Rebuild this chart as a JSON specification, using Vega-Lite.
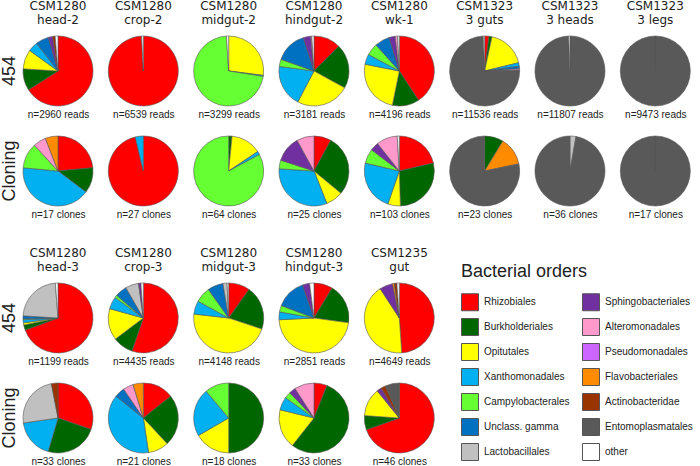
{
  "$schema": "https://vega.github.io/schema/vega-lite/v6.json",
  "padding": 0,
  "background": "white",
  "datasets": {
    "top": [
      {"s":"CSM1280|head-2","r":"454","n":"n=2960 reads","o":"Rhizobiales","k":1,"v":66},
      {"s":"CSM1280|head-2","r":"454","n":"n=2960 reads","o":"Burkholderiales","k":2,"v":10},
      {"s":"CSM1280|head-2","r":"454","n":"n=2960 reads","o":"Opitutales","k":3,"v":9},
      {"s":"CSM1280|head-2","r":"454","n":"n=2960 reads","o":"Xanthomonadales","k":4,"v":4.5},
      {"s":"CSM1280|head-2","r":"454","n":"n=2960 reads","o":"Unclass. gamma","k":6,"v":6},
      {"s":"CSM1280|head-2","r":"454","n":"n=2960 reads","o":"Sphingobacteriales","k":8,"v":2},
      {"s":"CSM1280|head-2","r":"454","n":"n=2960 reads","o":"Actinobacteridae","k":12,"v":1.2},
      {"s":"CSM1280|head-2","r":"454","n":"n=2960 reads","o":"other","k":14,"v":1.3},
      {"s":"CSM1280|crop-2","r":"454","n":"n=6539 reads","o":"Rhizobiales","k":1,"v":99.2},
      {"s":"CSM1280|crop-2","r":"454","n":"n=6539 reads","o":"other","k":14,"v":0.8},
      {"s":"CSM1280|midgut-2","r":"454","n":"n=3299 reads","o":"Opitutales","k":3,"v":27},
      {"s":"CSM1280|midgut-2","r":"454","n":"n=3299 reads","o":"Xanthomonadales","k":4,"v":0.5},
      {"s":"CSM1280|midgut-2","r":"454","n":"n=3299 reads","o":"Campylobacterales","k":5,"v":71.5},
      {"s":"CSM1280|midgut-2","r":"454","n":"n=3299 reads","o":"other","k":14,"v":1},
      {"s":"CSM1280|hindgut-2","r":"454","n":"n=3181 reads","o":"Rhizobiales","k":1,"v":12.5},
      {"s":"CSM1280|hindgut-2","r":"454","n":"n=3181 reads","o":"Burkholderiales","k":2,"v":20.5},
      {"s":"CSM1280|hindgut-2","r":"454","n":"n=3181 reads","o":"Opitutales","k":3,"v":24.7},
      {"s":"CSM1280|hindgut-2","r":"454","n":"n=3181 reads","o":"Xanthomonadales","k":4,"v":19.4},
      {"s":"CSM1280|hindgut-2","r":"454","n":"n=3181 reads","o":"Campylobacterales","k":5,"v":3.3},
      {"s":"CSM1280|hindgut-2","r":"454","n":"n=3181 reads","o":"Unclass. gamma","k":6,"v":14.7},
      {"s":"CSM1280|hindgut-2","r":"454","n":"n=3181 reads","o":"Sphingobacteriales","k":8,"v":3.4},
      {"s":"CSM1280|hindgut-2","r":"454","n":"n=3181 reads","o":"Alteromonadales","k":9,"v":0.5},
      {"s":"CSM1280|hindgut-2","r":"454","n":"n=3181 reads","o":"other","k":14,"v":1},
      {"s":"CSM1280|wk-1","r":"454","n":"n=4196 reads","o":"Rhizobiales","k":1,"v":40.8},
      {"s":"CSM1280|wk-1","r":"454","n":"n=4196 reads","o":"Burkholderiales","k":2,"v":12.4},
      {"s":"CSM1280|wk-1","r":"454","n":"n=4196 reads","o":"Opitutales","k":3,"v":24.9},
      {"s":"CSM1280|wk-1","r":"454","n":"n=4196 reads","o":"Xanthomonadales","k":4,"v":4.7},
      {"s":"CSM1280|wk-1","r":"454","n":"n=4196 reads","o":"Campylobacterales","k":5,"v":5.6},
      {"s":"CSM1280|wk-1","r":"454","n":"n=4196 reads","o":"Unclass. gamma","k":6,"v":6.9},
      {"s":"CSM1280|wk-1","r":"454","n":"n=4196 reads","o":"Sphingobacteriales","k":8,"v":2.8},
      {"s":"CSM1280|wk-1","r":"454","n":"n=4196 reads","o":"Alteromonadales","k":9,"v":1.1},
      {"s":"CSM1280|wk-1","r":"454","n":"n=4196 reads","o":"other","k":14,"v":0.8},
      {"s":"CSM1323|3 guts","r":"454","n":"n=11536 reads","o":"Rhizobiales","k":1,"v":2},
      {"s":"CSM1323|3 guts","r":"454","n":"n=11536 reads","o":"Burkholderiales","k":2,"v":1.4},
      {"s":"CSM1323|3 guts","r":"454","n":"n=11536 reads","o":"Opitutales","k":3,"v":17.8},
      {"s":"CSM1323|3 guts","r":"454","n":"n=11536 reads","o":"Xanthomonadales","k":4,"v":1.6},
      {"s":"CSM1323|3 guts","r":"454","n":"n=11536 reads","o":"Unclass. gamma","k":6,"v":1.2},
      {"s":"CSM1323|3 guts","r":"454","n":"n=11536 reads","o":"Alteromonadales","k":9,"v":0.6},
      {"s":"CSM1323|3 guts","r":"454","n":"n=11536 reads","o":"Entomoplasmatales","k":13,"v":74.8},
      {"s":"CSM1323|3 guts","r":"454","n":"n=11536 reads","o":"other","k":14,"v":0.6},
      {"s":"CSM1323|3 heads","r":"454","n":"n=11807 reads","o":"Entomoplasmatales","k":13,"v":99.4},
      {"s":"CSM1323|3 heads","r":"454","n":"n=11807 reads","o":"other","k":14,"v":0.6},
      {"s":"CSM1323|3 legs","r":"454","n":"n=9473 reads","o":"Entomoplasmatales","k":13,"v":100},
      {"s":"CSM1323|3 legs","r":"454","n":"n=9473 reads","o":"other","k":14,"v":0},
      {"s":"CSM1280|head-2","r":"Cloning","n":"n=17 clones","o":"Rhizobiales","k":1,"v":4},
      {"s":"CSM1280|head-2","r":"Cloning","n":"n=17 clones","o":"Burkholderiales","k":2,"v":2},
      {"s":"CSM1280|head-2","r":"Cloning","n":"n=17 clones","o":"Xanthomonadales","k":4,"v":7},
      {"s":"CSM1280|head-2","r":"Cloning","n":"n=17 clones","o":"Campylobacterales","k":5,"v":2},
      {"s":"CSM1280|head-2","r":"Cloning","n":"n=17 clones","o":"Alteromonadales","k":9,"v":1},
      {"s":"CSM1280|head-2","r":"Cloning","n":"n=17 clones","o":"Flavobacteriales","k":11,"v":1},
      {"s":"CSM1280|crop-2","r":"Cloning","n":"n=27 clones","o":"Rhizobiales","k":1,"v":26},
      {"s":"CSM1280|crop-2","r":"Cloning","n":"n=27 clones","o":"Xanthomonadales","k":4,"v":1},
      {"s":"CSM1280|midgut-2","r":"Cloning","n":"n=64 clones","o":"Burkholderiales","k":2,"v":1},
      {"s":"CSM1280|midgut-2","r":"Cloning","n":"n=64 clones","o":"Opitutales","k":3,"v":9},
      {"s":"CSM1280|midgut-2","r":"Cloning","n":"n=64 clones","o":"Xanthomonadales","k":4,"v":1},
      {"s":"CSM1280|midgut-2","r":"Cloning","n":"n=64 clones","o":"Campylobacterales","k":5,"v":53},
      {"s":"CSM1280|hindgut-2","r":"Cloning","n":"n=25 clones","o":"Rhizobiales","k":1,"v":2},
      {"s":"CSM1280|hindgut-2","r":"Cloning","n":"n=25 clones","o":"Burkholderiales","k":2,"v":7},
      {"s":"CSM1280|hindgut-2","r":"Cloning","n":"n=25 clones","o":"Opitutales","k":3,"v":2},
      {"s":"CSM1280|hindgut-2","r":"Cloning","n":"n=25 clones","o":"Xanthomonadales","k":4,"v":8},
      {"s":"CSM1280|hindgut-2","r":"Cloning","n":"n=25 clones","o":"Campylobacterales","k":5,"v":1},
      {"s":"CSM1280|hindgut-2","r":"Cloning","n":"n=25 clones","o":"Sphingobacteriales","k":8,"v":3},
      {"s":"CSM1280|hindgut-2","r":"Cloning","n":"n=25 clones","o":"Alteromonadales","k":9,"v":2},
      {"s":"CSM1280|wk-1","r":"Cloning","n":"n=103 clones","o":"Rhizobiales","k":1,"v":22},
      {"s":"CSM1280|wk-1","r":"Cloning","n":"n=103 clones","o":"Burkholderiales","k":2,"v":29},
      {"s":"CSM1280|wk-1","r":"Cloning","n":"n=103 clones","o":"Opitutales","k":3,"v":6},
      {"s":"CSM1280|wk-1","r":"Cloning","n":"n=103 clones","o":"Xanthomonadales","k":4,"v":24},
      {"s":"CSM1280|wk-1","r":"Cloning","n":"n=103 clones","o":"Campylobacterales","k":5,"v":7},
      {"s":"CSM1280|wk-1","r":"Cloning","n":"n=103 clones","o":"Sphingobacteriales","k":8,"v":4},
      {"s":"CSM1280|wk-1","r":"Cloning","n":"n=103 clones","o":"Alteromonadales","k":9,"v":10},
      {"s":"CSM1280|wk-1","r":"Cloning","n":"n=103 clones","o":"other","k":14,"v":1},
      {"s":"CSM1323|3 guts","r":"Cloning","n":"n=23 clones","o":"Burkholderiales","k":2,"v":2},
      {"s":"CSM1323|3 guts","r":"Cloning","n":"n=23 clones","o":"Flavobacteriales","k":11,"v":3},
      {"s":"CSM1323|3 guts","r":"Cloning","n":"n=23 clones","o":"Entomoplasmatales","k":13,"v":18},
      {"s":"CSM1323|3 heads","r":"Cloning","n":"n=36 clones","o":"Lactobacillales","k":7,"v":1},
      {"s":"CSM1323|3 heads","r":"Cloning","n":"n=36 clones","o":"Entomoplasmatales","k":13,"v":35},
      {"s":"CSM1323|3 legs","r":"Cloning","n":"n=17 clones","o":"Entomoplasmatales","k":13,"v":17},
      {"s":"CSM1323|3 legs","r":"Cloning","n":"n=17 clones","o":"other","k":14,"v":0}
    ],
    "bottom": [
      {"s":"CSM1280|head-3","r":"454","n":"n=1199 reads","o":"Rhizobiales","k":1,"v":69.4},
      {"s":"CSM1280|head-3","r":"454","n":"n=1199 reads","o":"Burkholderiales","k":2,"v":2.4},
      {"s":"CSM1280|head-3","r":"454","n":"n=1199 reads","o":"Opitutales","k":3,"v":1},
      {"s":"CSM1280|head-3","r":"454","n":"n=1199 reads","o":"Xanthomonadales","k":4,"v":1.4},
      {"s":"CSM1280|head-3","r":"454","n":"n=1199 reads","o":"Campylobacterales","k":5,"v":0.4},
      {"s":"CSM1280|head-3","r":"454","n":"n=1199 reads","o":"Unclass. gamma","k":6,"v":1.4},
      {"s":"CSM1280|head-3","r":"454","n":"n=1199 reads","o":"Lactobacillales","k":7,"v":22.8},
      {"s":"CSM1280|head-3","r":"454","n":"n=1199 reads","o":"other","k":14,"v":1.2},
      {"s":"CSM1280|crop-3","r":"454","n":"n=4435 reads","o":"Rhizobiales","k":1,"v":55.3},
      {"s":"CSM1280|crop-3","r":"454","n":"n=4435 reads","o":"Burkholderiales","k":2,"v":9.4},
      {"s":"CSM1280|crop-3","r":"454","n":"n=4435 reads","o":"Opitutales","k":3,"v":14.6},
      {"s":"CSM1280|crop-3","r":"454","n":"n=4435 reads","o":"Xanthomonadales","k":4,"v":5.7},
      {"s":"CSM1280|crop-3","r":"454","n":"n=4435 reads","o":"Campylobacterales","k":5,"v":1.2},
      {"s":"CSM1280|crop-3","r":"454","n":"n=4435 reads","o":"Unclass. gamma","k":6,"v":5.5},
      {"s":"CSM1280|crop-3","r":"454","n":"n=4435 reads","o":"Lactobacillales","k":7,"v":6.1},
      {"s":"CSM1280|crop-3","r":"454","n":"n=4435 reads","o":"Sphingobacteriales","k":8,"v":1.1},
      {"s":"CSM1280|crop-3","r":"454","n":"n=4435 reads","o":"other","k":14,"v":1.1},
      {"s":"CSM1280|midgut-3","r":"454","n":"n=4148 reads","o":"Rhizobiales","k":1,"v":9.9},
      {"s":"CSM1280|midgut-3","r":"454","n":"n=4148 reads","o":"Burkholderiales","k":2,"v":20.2},
      {"s":"CSM1280|midgut-3","r":"454","n":"n=4148 reads","o":"Opitutales","k":3,"v":46.7},
      {"s":"CSM1280|midgut-3","r":"454","n":"n=4148 reads","o":"Xanthomonadales","k":4,"v":6.2},
      {"s":"CSM1280|midgut-3","r":"454","n":"n=4148 reads","o":"Campylobacterales","k":5,"v":7.2},
      {"s":"CSM1280|midgut-3","r":"454","n":"n=4148 reads","o":"Unclass. gamma","k":6,"v":7.2},
      {"s":"CSM1280|midgut-3","r":"454","n":"n=4148 reads","o":"Lactobacillales","k":7,"v":1.9},
      {"s":"CSM1280|midgut-3","r":"454","n":"n=4148 reads","o":"other","k":14,"v":0.7},
      {"s":"CSM1280|hindgut-3","r":"454","n":"n=2851 reads","o":"Rhizobiales","k":1,"v":8.7},
      {"s":"CSM1280|hindgut-3","r":"454","n":"n=2851 reads","o":"Burkholderiales","k":2,"v":18.5},
      {"s":"CSM1280|hindgut-3","r":"454","n":"n=2851 reads","o":"Opitutales","k":3,"v":47},
      {"s":"CSM1280|hindgut-3","r":"454","n":"n=2851 reads","o":"Xanthomonadales","k":4,"v":3.6},
      {"s":"CSM1280|hindgut-3","r":"454","n":"n=2851 reads","o":"Campylobacterales","k":5,"v":3},
      {"s":"CSM1280|hindgut-3","r":"454","n":"n=2851 reads","o":"Unclass. gamma","k":6,"v":13.9},
      {"s":"CSM1280|hindgut-3","r":"454","n":"n=2851 reads","o":"Sphingobacteriales","k":8,"v":3.3},
      {"s":"CSM1280|hindgut-3","r":"454","n":"n=2851 reads","o":"other","k":14,"v":2},
      {"s":"CSM1235|gut","r":"454","n":"n=4649 reads","o":"Rhizobiales","k":1,"v":48.9},
      {"s":"CSM1235|gut","r":"454","n":"n=4649 reads","o":"Opitutales","k":3,"v":41.9},
      {"s":"CSM1235|gut","r":"454","n":"n=4649 reads","o":"Sphingobacteriales","k":8,"v":6.1},
      {"s":"CSM1235|gut","r":"454","n":"n=4649 reads","o":"Flavobacteriales","k":11,"v":0.8},
      {"s":"CSM1235|gut","r":"454","n":"n=4649 reads","o":"Actinobacteridae","k":12,"v":1.2},
      {"s":"CSM1235|gut","r":"454","n":"n=4649 reads","o":"other","k":14,"v":1.1},
      {"s":"CSM1280|head-3","r":"Cloning","n":"n=33 clones","o":"Rhizobiales","k":1,"v":10},
      {"s":"CSM1280|head-3","r":"Cloning","n":"n=33 clones","o":"Burkholderiales","k":2,"v":8},
      {"s":"CSM1280|head-3","r":"Cloning","n":"n=33 clones","o":"Xanthomonadales","k":4,"v":6},
      {"s":"CSM1280|head-3","r":"Cloning","n":"n=33 clones","o":"Lactobacillales","k":7,"v":8},
      {"s":"CSM1280|head-3","r":"Cloning","n":"n=33 clones","o":"Actinobacteridae","k":12,"v":1},
      {"s":"CSM1280|crop-3","r":"Cloning","n":"n=21 clones","o":"Rhizobiales","k":1,"v":3},
      {"s":"CSM1280|crop-3","r":"Cloning","n":"n=21 clones","o":"Burkholderiales","k":2,"v":5},
      {"s":"CSM1280|crop-3","r":"Cloning","n":"n=21 clones","o":"Opitutales","k":3,"v":2},
      {"s":"CSM1280|crop-3","r":"Cloning","n":"n=21 clones","o":"Xanthomonadales","k":4,"v":8},
      {"s":"CSM1280|crop-3","r":"Cloning","n":"n=21 clones","o":"Unclass. gamma","k":6,"v":1},
      {"s":"CSM1280|crop-3","r":"Cloning","n":"n=21 clones","o":"Alteromonadales","k":9,"v":1},
      {"s":"CSM1280|crop-3","r":"Cloning","n":"n=21 clones","o":"Flavobacteriales","k":11,"v":1},
      {"s":"CSM1280|midgut-3","r":"Cloning","n":"n=18 clones","o":"Burkholderiales","k":2,"v":9},
      {"s":"CSM1280|midgut-3","r":"Cloning","n":"n=18 clones","o":"Opitutales","k":3,"v":3},
      {"s":"CSM1280|midgut-3","r":"Cloning","n":"n=18 clones","o":"Xanthomonadales","k":4,"v":4},
      {"s":"CSM1280|midgut-3","r":"Cloning","n":"n=18 clones","o":"Campylobacterales","k":5,"v":2},
      {"s":"CSM1280|hindgut-3","r":"Cloning","n":"n=33 clones","o":"Rhizobiales","k":1,"v":2},
      {"s":"CSM1280|hindgut-3","r":"Cloning","n":"n=33 clones","o":"Burkholderiales","k":2,"v":18},
      {"s":"CSM1280|hindgut-3","r":"Cloning","n":"n=33 clones","o":"Opitutales","k":3,"v":6},
      {"s":"CSM1280|hindgut-3","r":"Cloning","n":"n=33 clones","o":"Xanthomonadales","k":4,"v":2},
      {"s":"CSM1280|hindgut-3","r":"Cloning","n":"n=33 clones","o":"Campylobacterales","k":5,"v":1},
      {"s":"CSM1280|hindgut-3","r":"Cloning","n":"n=33 clones","o":"Sphingobacteriales","k":8,"v":1},
      {"s":"CSM1280|hindgut-3","r":"Cloning","n":"n=33 clones","o":"Alteromonadales","k":9,"v":3},
      {"s":"CSM1235|gut","r":"Cloning","n":"n=46 clones","o":"Rhizobiales","k":1,"v":32},
      {"s":"CSM1235|gut","r":"Cloning","n":"n=46 clones","o":"Burkholderiales","k":2,"v":3},
      {"s":"CSM1235|gut","r":"Cloning","n":"n=46 clones","o":"Opitutales","k":3,"v":6},
      {"s":"CSM1235|gut","r":"Cloning","n":"n=46 clones","o":"Sphingobacteriales","k":8,"v":1},
      {"s":"CSM1235|gut","r":"Cloning","n":"n=46 clones","o":"Actinobacteridae","k":12,"v":1},
      {"s":"CSM1235|gut","r":"Cloning","n":"n=46 clones","o":"Entomoplasmatales","k":13,"v":3}
    ]
  },
  "vconcat": [
    {
      "data": {"name": "top"},
      "bounds": "flush",
      "spacing": {"row": 28, "column": 25.33},
      "facet": {
        "row": {"field": "r", "type": "nominal", "sort": ["454", "Cloning"], "header": {"title": null, "labelAngle": -90, "labelFontSize": 18, "labelFont": "Liberation Sans", "labelPadding": 0, "labelColor": "#222"}},
        "column": {"field": "s", "type": "nominal", "sort": ["CSM1280|head-2", "CSM1280|crop-2", "CSM1280|midgut-2", "CSM1280|hindgut-2", "CSM1280|wk-1", "CSM1323|3 guts", "CSM1323|3 heads", "CSM1323|3 legs"], "header": {"title": null, "labelExpr": "split(datum.value, '|')", "labelFontSize": 12, "labelFont": "DejaVu Sans", "labelLineHeight": 14, "labelPadding": 8, "labelColor": "#222"}}
      },
      "spec": {
        "width": 60,
        "height": 72,
        "mark": {"type": "arc", "outerRadius": 35, "stroke": "#555", "strokeWidth": 0.6},
        "encoding": {
          "theta": {"field": "v", "type": "quantitative", "stack": "normalize"},
          "order": {"field": "k", "type": "quantitative"},
          "x": {"field": "n", "type": "nominal", "axis": {"title": null, "domain": false, "ticks": false, "grid": false, "labelAngle": 0, "labelFont": "Liberation Sans", "labelFontSize": 10, "labelColor": "#222", "labelPadding": 2, "labelLimit": 200}},
          "color": {
            "field": "o", "type": "nominal",
            "scale": {
              "domain": ["Rhizobiales", "Burkholderiales", "Opitutales", "Xanthomonadales", "Campylobacterales", "Unclass. gamma", "Lactobacillales", "Sphingobacteriales", "Alteromonadales", "Pseudomonadales", "Flavobacteriales", "Actinobacteridae", "Entomoplasmatales", "other"],
              "range": ["#FF0000", "#006600", "#FFFF00", "#00B0F0", "#66FF33", "#0070C0", "#C0C0C0", "#7030A0", "#FF99CC", "#CC66FF", "#FF8C00", "#993300", "#595959", "#FFFFFF"]
            },
            "legend": {"title": "Bacterial orders", "orient": "none", "legendX": 433, "legendY": 228, "columns": 2, "symbolType": "square", "symbolSize": 289, "symbolStrokeColor": "#404040", "symbolStrokeWidth": 1, "symbolOpacity": 1, "labelFont": "Liberation Sans", "labelFontSize": 10, "labelColor": "#222", "labelOffset": 5, "rowPadding": 3, "columnPadding": 10, "labelLimit": 200, "titleFont": "Liberation Sans", "titleFontSize": 18, "titleFontWeight": "normal", "titleColor": "#222", "titlePadding": 12, "padding": 0}
          }
        }
      },
      "resolve": {"scale": {"x": "independent"}, "axis": {"x": "independent"}}
    },
    {
      "data": {"name": "bottom"},
      "bounds": "flush",
      "spacing": {"row": 28, "column": 25.33},
      "facet": {
        "row": {"field": "r", "type": "nominal", "sort": ["454", "Cloning"], "header": {"title": null, "labelAngle": -90, "labelFontSize": 18, "labelFont": "Liberation Sans", "labelPadding": 0, "labelColor": "#222"}},
        "column": {"field": "s", "type": "nominal", "sort": ["CSM1280|head-3", "CSM1280|crop-3", "CSM1280|midgut-3", "CSM1280|hindgut-3", "CSM1235|gut"], "header": {"title": null, "labelExpr": "split(datum.value, '|')", "labelFontSize": 12, "labelFont": "DejaVu Sans", "labelLineHeight": 14, "labelPadding": 8, "labelColor": "#222"}}
      },
      "spec": {
        "width": 60,
        "height": 72,
        "mark": {"type": "arc", "outerRadius": 35, "stroke": "#555", "strokeWidth": 0.6},
        "encoding": {
          "theta": {"field": "v", "type": "quantitative", "stack": "normalize"},
          "order": {"field": "k", "type": "quantitative"},
          "x": {"field": "n", "type": "nominal", "axis": {"title": null, "domain": false, "ticks": false, "grid": false, "labelAngle": 0, "labelFont": "Liberation Sans", "labelFontSize": 10, "labelColor": "#222", "labelPadding": 2, "labelLimit": 200}},
          "color": {
            "field": "o", "type": "nominal",
            "scale": {
              "domain": ["Rhizobiales", "Burkholderiales", "Opitutales", "Xanthomonadales", "Campylobacterales", "Unclass. gamma", "Lactobacillales", "Sphingobacteriales", "Alteromonadales", "Pseudomonadales", "Flavobacteriales", "Actinobacteridae", "Entomoplasmatales", "other"],
              "range": ["#FF0000", "#006600", "#FFFF00", "#00B0F0", "#66FF33", "#0070C0", "#C0C0C0", "#7030A0", "#FF99CC", "#CC66FF", "#FF8C00", "#993300", "#595959", "#FFFFFF"]
            }
          }
        }
      },
      "resolve": {"scale": {"x": "independent"}, "axis": {"x": "independent"}}
    }
  ],
  "spacing": 28,
  "config": {"view": {"stroke": null}}
}
